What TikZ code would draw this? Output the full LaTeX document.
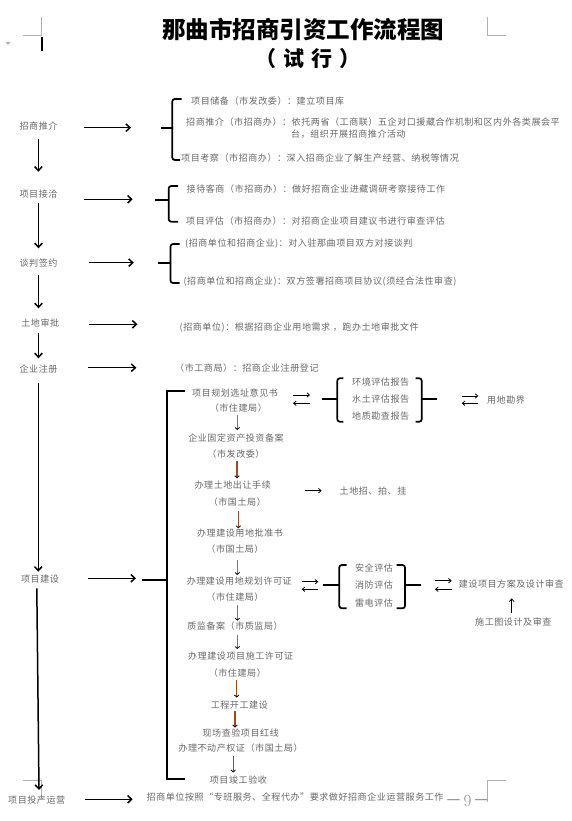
\documentclass[tikz,border=0pt]{standalone}
\usepackage{fontspec}
\usetikzlibrary{arrows.meta}
\newfontfamily\cjk{Noto Sans CJK SC}[LetterSpace=6]
\newfontfamily\cjkt{Noto Sans CJK SC}
\definecolor{txt}{RGB}{105,105,105}
\definecolor{abl}{RGB}{40,135,235}
\definecolor{abr}{RGB}{165,72,30}
\definecolor{markc}{RGB}{175,175,175}
\tikzset{
  lbl/.style={font=\cjk\fontsize{9.05}{10}\selectfont, text=txt, inner sep=0pt},
  lblw/.style={lbl, anchor=west},
  mainarrow/.style={line width=1.5pt, -{Straight Barb[length=4pt,width=7.5pt]}},
  thinarrow/.style={line width=0.8pt, -{Straight Barb[length=2.6pt,width=4.5pt]}},
  blarrow/.style={abl, line width=1.3pt, -{Straight Barb[length=2pt,width=4.5pt,line width=0.8pt,color=black]}},
  brarrow/.style={abr, line width=1.3pt, -{Straight Barb[length=2pt,width=4.5pt,line width=0.8pt,color=black]}},
  bracebox/.style={line width=1.7pt, rounded corners=2.5pt},
  bigbrace/.style={line width=2pt},
  markline/.style={markc, line width=0.7pt},
}
\begin{document}
\begin{tikzpicture}[x=1pt,y=-1pt]
\useasboundingbox (0,0) rectangle (572,821);
\fill[white] (0,0) rectangle (572,821);

% page marks
\draw[markline] (41.4,16.7) -- (41.4,35.7) -- (23,35.7);
\draw[markline] (487,16.7) -- (487,35.7) -- (506,35.7);
\draw[markline] (23,780) -- (41,780) -- (41,800);
\draw[markline] (506,780) -- (487,780) -- (487,802);
\draw[line width=1.4pt] (42,37.3) -- (42,50.7);
\fill[markc] (5.5,42) -- (10.5,42) -- (8,45) -- cycle;
\node[inner sep=0pt, text=markc!85!black] (pnum) at (467.5,801) {\fontsize{17}{18}\selectfont{\cjk －}\hspace{1.5pt}9\hspace{1.5pt}{\cjk －}};

% title
\node[inner sep=0pt] (title) at (303,29) {\cjkt\bfseries\fontsize{23.5}{24}\selectfont 那曲市招商引资工作流程图};
\node[inner sep=0pt] (subtitle) at (308,59) {\cjkt\bfseries\fontsize{21}{22}\selectfont （\hspace{7pt}试\hspace{7pt}行\hspace{7pt}）};

% left column labels
\node[lbl] (zs) at (38.5,125.7) {招商推介};
\node[lbl] (jq) at (38.5,194) {项目接洽};
\node[lbl] (tp) at (38.5,262.7) {谈判签约};
\node[lbl] (td) at (40.3,322.7) {土地审批};
\node[lbl] (zc) at (38.5,369.3) {企业注册};
\node[lbl] (js) at (40,579) {项目建设};
\node[lbl] (tc) at (36.7,800) {项目投产运营};

% left column arrows
\coordinate (d1a) at (38.4,139.3); \coordinate (d1b) at (38.4,171.7);
\coordinate (d2a) at (38.5,203); \coordinate (d2b) at (38.5,248.3);
\coordinate (d3a) at (38.5,275); \coordinate (d3b) at (38.5,308.3);
\coordinate (d4a) at (38.5,333.3); \coordinate (d4b) at (38.5,358.3);
\coordinate (d5a) at (38.3,382.7); \coordinate (d5b) at (38.3,571.7);
\coordinate (d6a) at (36.8,588.3); \coordinate (d6b) at (39,790);
\draw[mainarrow] (d1a) -- (d1b);
\draw[mainarrow] (d2a) -- (d2b);
\draw[mainarrow] (d3a) -- (d3b);
\draw[mainarrow] (d4a) -- (d4b);
\draw[mainarrow] (d5a) -- (d5b);
\draw[mainarrow] (d6a) -- (d6b);

\coordinate (h1a) at (83.6,127.7); \coordinate (h1b) at (131,127.7);
\coordinate (h2a) at (84.3,199.3); \coordinate (h2b) at (132.7,199.3);
\coordinate (h3a) at (89,262.7); \coordinate (h3b) at (133.8,262.7);
\coordinate (h4a) at (89,324.3); \coordinate (h4b) at (137.5,324.3);
\coordinate (h5a) at (88,367.7); \coordinate (h5b) at (136.4,367.7);
\coordinate (h6a) at (88.3,578.3); \coordinate (h6b) at (136,578.3);
\coordinate (h7a) at (85,799.3); \coordinate (h7b) at (132.7,799.3);
\draw[mainarrow] (h1a) -- (h1b);
\draw[mainarrow] (h2a) -- (h2b);
\draw[mainarrow] (h3a) -- (h3b);
\draw[mainarrow] (h4a) -- (h4b);
\draw[mainarrow] (h5a) -- (h5b);
\draw[mainarrow] (h6a) -- (h6b);
\draw[mainarrow] (h7a) -- (h7b);

% brackets of the first sections
\draw[bracebox] (181.5,99) -- (172.3,99) -- (172.3,160) -- (180,160);
\draw[bracebox] (160.6,128.3) -- (172.3,128.3);
\draw[bracebox] (178,186) -- (168.7,186) -- (168.7,221.7) -- (178,221.7);
\draw[bracebox] (154.7,200) -- (168.7,200);
\draw[bracebox] (179.7,244) -- (170.5,244) -- (170.5,283) -- (179.7,283);
\draw[bracebox] (157.7,262.7) -- (170.5,262.7);

% texts of the first sections
\node[lblw] (t1) at (191,101) {项目储备（市发改委）：建立项目库};
\node[lblw] (t2) at (186,122.3) {招商推介（市招商办）：依托两省（工商联）五企对口援藏合作机制和区内外各类展会平};
\node[lblw] (t3) at (291,134) {台，组织开展招商推介活动};
\node[lblw] (t4) at (181,157.7) {项目考察（市招商办）：深入招商企业了解生产经营、纳税等情况};
\node[lblw] (t5) at (186.5,189) {接待客商（市招商办）：做好招商企业进藏调研考察接待工作};
\node[lblw] (t6) at (186,220.7) {项目评估（市招商办）：对招商企业项目建议书进行审查评估};
\node[lblw] (t7) at (185,244) {(招商单位和招商企业)：对入驻那曲项目双方对接谈判};
\node[lblw] (t8) at (183.4,281.7) {(招商单位和招商企业)：双方签署招商项目协议(须经合法性审查)};
\node[lblw] (t9) at (179.5,327.7) {(招商单位)：根据招商企业用地需求 ，跑办土地审批文件};
\node[lblw] (t10) at (175,367.7) {（市工商局）：招商企业注册登记};
\node[lblw] (t11) at (146.5,796.7) {招商单位按照“专班服务、全程代办”要求做好招商企业运营服务工作};

% big bracket
\draw[bigbrace] (185,390.7) -- (166.7,390.7) -- (166.7,779.3) -- (185,779.3);
\draw[bigbrace] (142.3,580) -- (166.7,580);

% middle column
\node[lbl] (m1) at (235,392.7) {项目规划选址意见书};
\node[lbl] (m1b) at (238.3,408.3) {（市住建局）};
\node[lbl] (m2) at (236,438.3) {企业固定资产投资备案};
\node[lbl] (m2b) at (236,454.3) {（市发改委）};
\node[lbl] (m3) at (232.7,485) {办理土地出让手续};
\node[lbl] (m3b) at (237.3,501.7) {（市国土局）};
\node[lbl] (m4) at (240,533.3) {办理建设用地批准书};
\node[lbl] (m4b) at (235,549.3) {（市国土局）};
\node[lbl] (m5) at (239.3,580.7) {办理建设用地规划许可证};
\node[lbl] (m5b) at (235,596.7) {（市住建局）};
\node[lbl] (m6) at (235,626) {质监备案（市质监局）};
\node[lbl] (m7) at (240.7,656) {办理建设项目施工许可证};
\node[lbl] (m7b) at (237.3,672.7) {（市住建局）};
\node[lbl] (m8) at (239.3,705) {工程开工建设};
\node[lbl] (m9) at (240.7,732.7) {现场查验项目红线};
\node[lbl] (m10) at (240.5,748.3) {办理不动产权证（市国土局）};
\node[lbl] (m11) at (238.4,780) {项目竣工验收};

\coordinate (v1a) at (237.3,414.5); \coordinate (v1b) at (237.3,430);
\coordinate (v2a) at (237,461); \coordinate (v2b) at (237,478.3);
\coordinate (v3a) at (238.3,511); \coordinate (v3b) at (238.3,528.3);
\coordinate (v4a) at (237.3,559.5); \coordinate (v4b) at (237.3,575);
\coordinate (v5a) at (237.3,604.5); \coordinate (v5b) at (237.3,620.7);
\coordinate (v6a) at (237.3,634.5); \coordinate (v6b) at (237.3,649);
\coordinate (v7a) at (236.7,680); \coordinate (v7b) at (236.7,697.5);
\coordinate (v8a) at (235,711); \coordinate (v8b) at (235,727.5);
\coordinate (v9a) at (233.2,756); \coordinate (v9b) at (233.2,772.5);
\draw[blarrow] (v1a) -- (v1b);
\draw[brarrow] (v2a) -- (v2b);
\draw[brarrow] (v3a) -- (v3b);
\draw[blarrow] (v4a) -- (v4b);
\draw[blarrow] (v5a) -- (v5b);
\draw[blarrow] (v6a) -- (v6b);
\draw[brarrow] (v7a) -- (v7b);
\draw[brarrow] (v8a) -- (v8b);
\draw[brarrow] (v9a) -- (v9b);

% reports group
\coordinate (p1a) at (293,395); \coordinate (p1b) at (310,395);
\coordinate (p1c) at (310,403.3); \coordinate (p1d) at (293,403.3);
\draw[thinarrow] (p1a) -- (p1b);
\draw[thinarrow] (p1c) -- (p1d);
\draw[bracebox] (343.3,378.3) -- (337.3,378.3) -- (337.3,421.7) -- (343.3,421.7);
\draw[bracebox] (321.7,399.3) -- (337.3,399.3);
\draw[bracebox] (415.7,378.3) -- (421.7,378.3) -- (421.7,421.7) -- (415.7,421.7);
\draw[bracebox] (421.7,399.3) -- (436.7,399.3);
\node[lbl] (r1) at (380.7,381.7) {环境评估报告};
\node[lbl] (r2) at (380.7,399.3) {水土评估报告};
\node[lbl] (r3) at (380.7,416) {地质勘查报告};
\coordinate (p2a) at (461.7,396); \coordinate (p2b) at (478.3,396);
\coordinate (p2c) at (478.3,403.3); \coordinate (p2d) at (461.7,403.3);
\draw[thinarrow] (p2a) -- (p2b);
\draw[thinarrow] (p2c) -- (p2d);
\node[lbl] (yd) at (506,400) {用地勘界};

% land transfer
\coordinate (la) at (305,490.7); \coordinate (lb) at (321.7,490.7);
\draw[thinarrow] (la) -- (lb);
\node[lblw] (zpg) at (339.5,490.7) {土地招、拍、挂};

% evaluations group
\coordinate (p3a) at (301.7,581.7); \coordinate (p3b) at (318.3,581.7);
\coordinate (p3c) at (318.3,589.3); \coordinate (p3d) at (301.7,589.3);
\draw[thinarrow] (p3a) -- (p3b);
\draw[thinarrow] (p3c) -- (p3d);
\draw[bracebox] (346.7,565) -- (339.3,565) -- (339.3,608.3) -- (346.7,608.3);
\draw[bracebox] (323.3,585) -- (339.3,585);
\draw[bracebox] (396.7,565) -- (405,565) -- (405,608.3) -- (396.7,608.3);
\draw[bracebox] (405,585) -- (420.7,585);
\node[lbl] (e1) at (374,568.3) {安全评估};
\node[lbl] (e2) at (374,585) {消防评估};
\node[lbl] (e3) at (374,602.7) {雷电评估};
\coordinate (p4a) at (435,580.7); \coordinate (p4b) at (451.7,580.7);
\coordinate (p4c) at (451.7,589.3); \coordinate (p4d) at (435,589.3);
\draw[thinarrow] (p4a) -- (p4b);
\draw[thinarrow] (p4c) -- (p4d);
\node[lbl] (sj) at (511.3,584.3) {建设项目方案及设计审查};
\node[lbl] (sg) at (513.3,621.7) {施工图设计及审查};
\coordinate (ua) at (511.7,613.3); \coordinate (ub) at (511.7,598.3);
\draw[thinarrow] (ua) -- (ub);
\end{tikzpicture}
\end{document}
